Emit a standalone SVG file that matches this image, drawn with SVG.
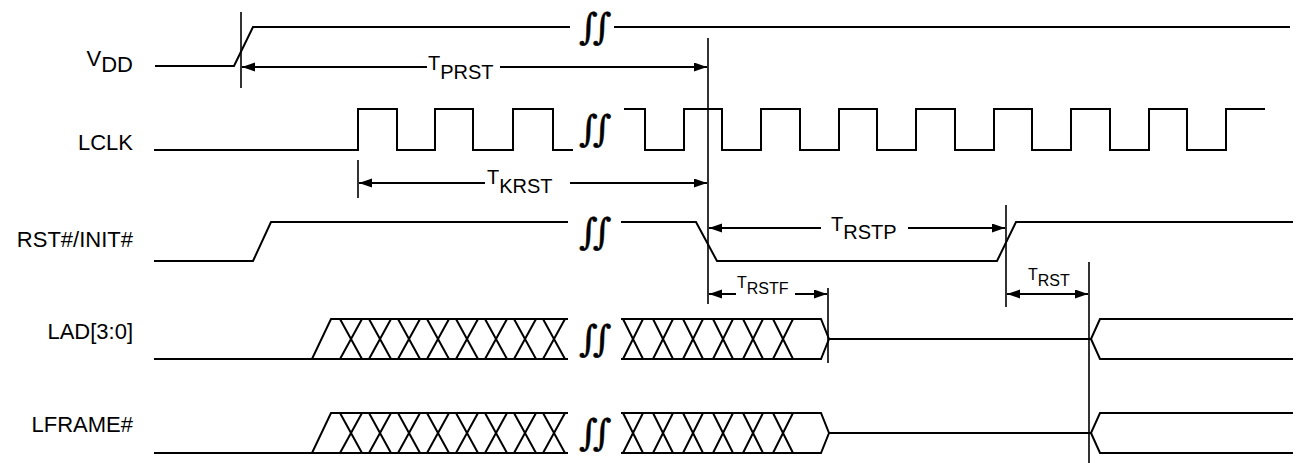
<svg xmlns="http://www.w3.org/2000/svg" width="1296" height="463" viewBox="0 0 1296 463">
<style>
.wave{fill:none;stroke:#000;stroke-width:2;stroke-linejoin:miter}
.mark{fill:none;stroke:#000;stroke-width:1.6}
.arr{fill:none;stroke:#000;stroke-width:2}
.lbl{font-family:"Liberation Sans",Arial,sans-serif;font-size:22px;fill:#000}
.tl{font-family:"Liberation Sans",Arial,sans-serif;font-size:20px;fill:#000}
.ts{font-family:"Liberation Sans",Arial,sans-serif;font-size:16px;fill:#000}
.brk{font-family:"DejaVu Serif",serif;font-size:36px;font-style:italic;letter-spacing:-5px;fill:#000;stroke:#000;stroke-width:0.5}
</style>
<defs>
<marker id="ah" markerWidth="14" markerHeight="10" refX="13" refY="4.5" orient="auto-start-reverse" markerUnits="userSpaceOnUse">
<path d="M0,0 L13,4.5 L0,9 z" fill="#000"/>
</marker>
</defs>

<g id="label-vdd"><text class="lbl" x="133" y="66" text-anchor="end">V<tspan dy="6">DD</tspan></text></g>
<g id="label-lclk"><text class="lbl" x="133" y="150" text-anchor="end">LCLK</text></g>
<g id="label-rst"><text class="lbl" x="133" y="247" text-anchor="end">RST#/INIT#</text></g>
<g id="label-lad"><text class="lbl" x="133" y="339" text-anchor="end">LAD[3:0]</text></g>
<g id="label-lframe"><text class="lbl" x="133" y="432" text-anchor="end">LFRAME#</text></g>

<g id="wave-vdd">
<path class="wave" d="M155,66 H234 L253,27 H570 M614,27 H1290"/>
<text class="brk" x="579" y="39">∫∫</text>
</g>

<g id="wave-lclk">
<path class="wave" d="M154,150 H358 V109 H397 V150 H435 V109 H473 V150 H513 V109 H553 V150 H573"/>
<path class="wave" d="M624,109 H645 V150 H684 V109 H722 V150 H761 V109 H800 V150 H839 V109 H877 V150 H916 V109 H955 V150 H994 V109 H1032 V150 H1071 V109 H1110 V150 H1149 V109 H1187 V150 H1226 V109 H1265"/>
<text class="brk" x="579" y="141">∫∫</text>
</g>

<g id="wave-rst">
<path class="wave" d="M154,261 H253 L271,222 H568 M621,222 H696 L717,261 H997 L1016,222 H1293"/>
<text class="brk" x="579" y="244">∫∫</text>
</g>

<g id="wave-lad">
<path class="wave" d="M154,359 H312 L331,319 H568 M312,359 H568"/>
<path class="wave" d="M340,319 L362,359 M340,359 L362,319 M369,319 L391,359 M369,359 L391,319 M398,319 L420,359 M398,359 L420,319 M427,319 L449,359 M427,359 L449,319 M456,319 L478,359 M456,359 L478,319 M485,319 L507,359 M485,359 L507,319 M514,319 L536,359 M514,359 L536,319 M543,319 L565,359 M543,359 L565,319"/>
<path class="wave" d="M621,319 H821 L829,339 L821,359 H621 M829,339 H1091 L1100,319 H1293 M1091,339 L1100,359 H1293"/>
<path class="wave" d="M623,319 L643,359 M623,359 L643,319 M653,319 L673,359 M653,359 L673,319 M683,319 L703,359 M683,359 L703,319 M713,319 L733,359 M713,359 L733,319 M743,319 L763,359 M743,359 L763,319 M773,319 L793,359 M773,359 L793,319"/>
<text class="brk" x="579" y="351">∫∫</text>
</g>

<g id="wave-lframe">
<path class="wave" d="M154,453 H312 L331,413 H568 M312,453 H568"/>
<path class="wave" d="M340,413 L362,453 M340,453 L362,413 M369,413 L391,453 M369,453 L391,413 M398,413 L420,453 M398,453 L420,413 M427,413 L449,453 M427,453 L449,413 M456,413 L478,453 M456,453 L478,413 M485,413 L507,453 M485,453 L507,413 M514,413 L536,453 M514,453 L536,413 M543,413 L565,453 M543,453 L565,413"/>
<path class="wave" d="M621,413 H821 L829,433 L821,453 H621 M829,433 H1091 L1100,413 H1293 M1091,433 L1100,453 H1293"/>
<path class="wave" d="M623,413 L643,453 M623,453 L643,413 M653,413 L673,453 M653,453 L673,413 M683,413 L703,453 M683,453 L703,413 M713,413 L733,453 M713,453 L733,413 M743,413 L763,453 M743,453 L763,413 M773,413 L793,453 M773,453 L793,413"/>
<text class="brk" x="579" y="445">∫∫</text>
</g>

<g id="connectors">
<path class="mark" d="M241,12 V88 M708,38 V304 M358,160 V198 M1006,205 V307 M828,288 V363 M1089,262 V463"/>
<line class="arr" x1="242" y1="67" x2="427" y2="67" marker-start="url(#ah)"/>
<line class="arr" x1="500" y1="67" x2="707" y2="67" marker-end="url(#ah)"/>
<line class="arr" x1="359" y1="183" x2="485" y2="183" marker-start="url(#ah)"/>
<line class="arr" x1="570" y1="183" x2="707" y2="183" marker-end="url(#ah)"/>
<line class="arr" x1="709" y1="228" x2="821" y2="228" marker-start="url(#ah)"/>
<line class="arr" x1="908" y1="228" x2="1005" y2="228" marker-end="url(#ah)"/>
<line class="arr" x1="709" y1="294" x2="736" y2="294" marker-start="url(#ah)"/>
<line class="arr" x1="795" y1="294" x2="827" y2="294" marker-end="url(#ah)"/>
<line class="arr" x1="1007" y1="294" x2="1088" y2="294" marker-start="url(#ah)" marker-end="url(#ah)"/>
</g>

<g id="timing-labels">
<text class="tl" x="428" y="70">T<tspan dy="9">PRST</tspan></text>
<text class="tl" x="487" y="184">T<tspan dy="9">KRST</tspan></text>
<text class="tl" x="831" y="231">T<tspan dy="8">RSTP</tspan></text>
<text class="ts" x="737" y="288">T<tspan dy="6">RSTF</tspan></text>
<text class="ts" x="1028" y="280">T<tspan dy="6">RST</tspan></text>
</g>
</svg>
